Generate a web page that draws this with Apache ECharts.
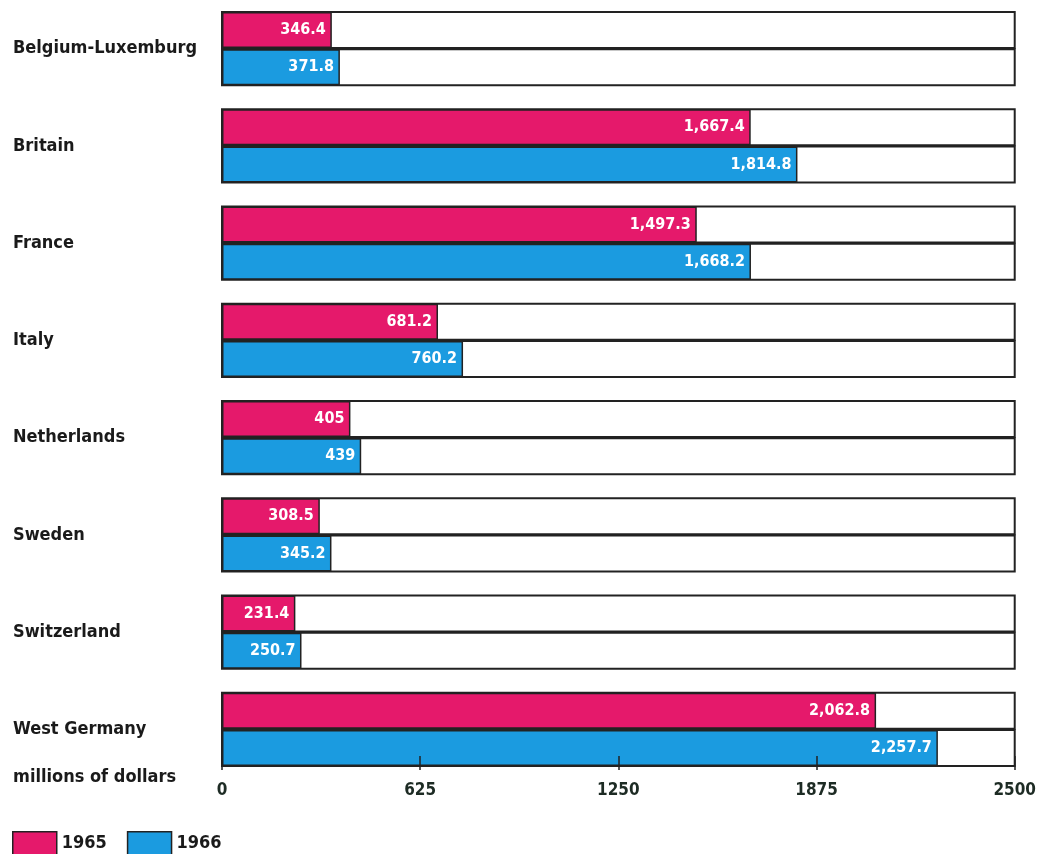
<!DOCTYPE html>
<html>
<head>
<meta charset="utf-8">
<script src="https://cdn.jsdelivr.net/npm/echarts@6/dist/echarts.min.js"></script>
<style>
  html, body { margin: 0; padding: 0; background: #fff; }
  #chart { width: 1039px; height: 854px; }
</style>
</head>
<body>
<div id="chart"></div>
<script>
// Countries, top to bottom
const countries = ['Belgium-Luxemburg', 'Britain', 'France', 'Italy', 'Netherlands', 'Sweden', 'Switzerland', 'West Germany'];
// millions of dollars
const values1965 = [346.4, 1667.4, 1497.3, 681.2, 405, 308.5, 231.4, 2062.8];
const values1966 = [371.8, 1814.8, 1668.2, 760.2, 439, 345.2, 250.7, 2257.7];
const axisTicks = [0, 625, 1250, 1875, 2500];

const FONT = "'Liberation Sans Narrow', 'DejaVu Sans Condensed', sans-serif";
const RED = '#e5196b';
const BLUE = '#1b9be0';

const fmt = v => v.toLocaleString('en-US', { maximumFractionDigits: 1 });

const chart = echarts.init(document.getElementById('chart'));

const barSeries = (name, data, color) => ({
  name: name,
  type: 'bar',
  data: data,
  barWidth: 36,
  barGap: '3%',
  showBackground: true,
  backgroundStyle: { color: '#fff', borderColor: '#222', borderWidth: 2 },
  itemStyle: { color: color, borderColor: '#222', borderWidth: 1.5 },
  label: {
    show: true,
    position: 'insideRight',
    distance: 6,
    color: '#fff',
    fontFamily: FONT,
    fontWeight: 'bold',
    fontSize: 16,
    formatter: p => fmt(p.value)
  }
});

const option = {
  animation: false,
  backgroundColor: '#fff',
  grid: { left: 222, right: 23, top: 0, height: 778 },
  xAxis: {
    type: 'value',
    min: 0,
    max: 2500,
    interval: 625,
    offset: -8,
    z: 10,
    splitLine: { show: false },
    axisLine: { show: false },
    axisTick: { show: true, inside: true, length: 14, lineStyle: { color: '#222', width: 1.5 } },
    axisLabel: {
      margin: 12,
      color: '#1d2b24',
      fontFamily: FONT,
      fontWeight: 'bold',
      fontSize: 17,
      formatter: v => axisTicks.includes(v) ? String(v) : ''
    }
  },
  yAxis: {
    type: 'category',
    data: countries,
    inverse: true,
    axisLine: { show: false },
    axisTick: { show: false },
    axisLabel: {
      align: 'left',
      margin: 209,
      color: '#1a1a1a',
      fontFamily: FONT,
      fontWeight: 'bold',
      fontSize: 18
    }
  },
  legend: {
    left: 7,
    top: 826,
    itemWidth: 44,
    itemHeight: 24,
    itemGap: 20,
    icon: 'rect',
    textStyle: { color: '#1a1a1a', fontFamily: FONT, fontWeight: 'bold', fontSize: 18 },
    itemStyle: { borderColor: '#222', borderWidth: 1.5 },
    data: ['1965', '1966']
  },
  graphic: [{
    type: 'text',
    left: 13,
    top: 768,
    style: {
      text: 'millions of dollars',
      fill: '#1a1a1a',
      font: 'bold 18px ' + FONT
    }
  }],
  series: [
    barSeries('1965', values1965, RED),
    barSeries('1966', values1966, BLUE)
  ]
};

chart.setOption(option);
</script>
</body>
</html>
